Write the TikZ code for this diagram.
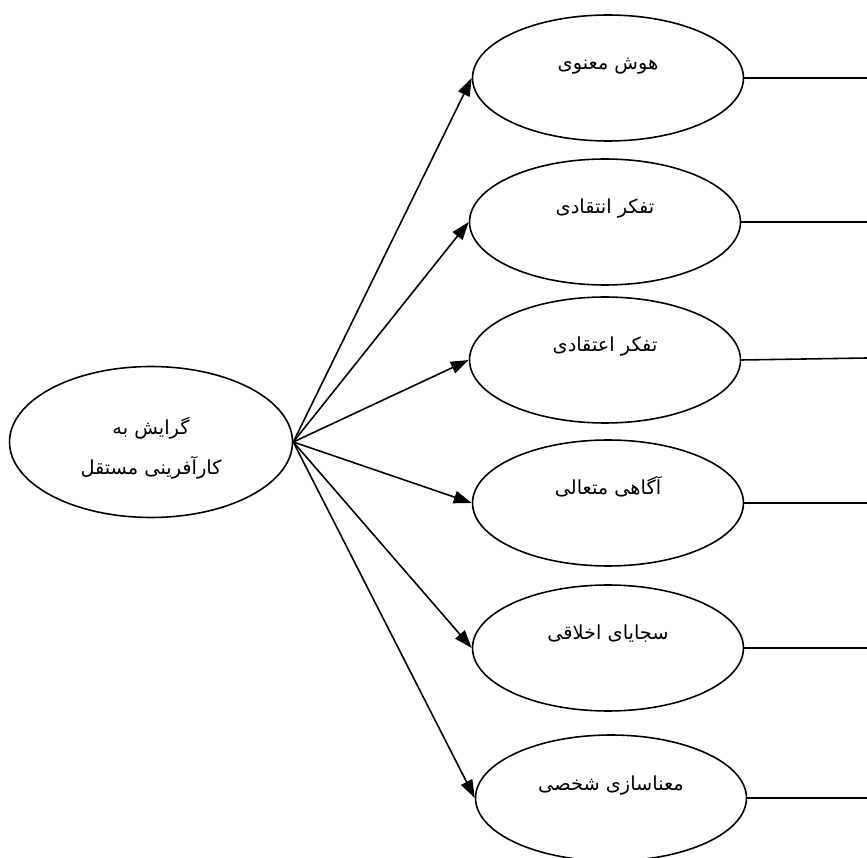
\documentclass[tikz,border=0pt]{standalone}
\usepackage{fontspec}
\newfontfamily\arabicfont[Script=Arabic]{DejaVu Sans}
\TeXXeTstate=1
\usetikzlibrary{arrows.meta,shapes.geometric}

\begin{document}
\begin{tikzpicture}[
  x=0.02cm, y=-0.02cm,
  font=\arabicfont\fontsize{11}{13}\selectfont,
  el/.style={draw, ellipse, line width=0.9pt, inner sep=0pt,
              minimum width=5.42cm, minimum height=2.52cm,
              text height=0.3cm, text depth=0.62cm},
  root/.style={draw, ellipse, line width=0.9pt, inner sep=0pt,
               minimum width=5.66cm, minimum height=3.02cm},
  rootlbl/.style={align=center, yshift=-0.12cm},
  arr/.style={-{Triangle[length=0.36cm, width=0.25cm]}, line width=0.9pt},
  tail/.style={line width=0.9pt},
]
\useasboundingbox (0,0) rectangle (867,858);

\node[root, label={[rootlbl]center:\beginR گرایش به\endR\\[0.3cm]\beginR کارآفرینی مستقل\endR}] (gerayesh) at (151,442) {};

\node[el] (hosh)     at (608,78)  {\beginR هوش معنوی\endR};
\node[el] (enteqadi) at (605,222) {\beginR تفکر انتقادی\endR};
\node[el] (eteqadi)  at (605,360) {\beginR تفکر اعتقادی\endR};
\node[el] (agahi)    at (608,503) {\beginR آگاهی متعالی\endR};
\node[el] (sajaya)   at (608,648) {\beginR سجایای اخلاقی\endR};
\node[el] (manasazi) at (611,798) {\beginR معناسازی شخصی\endR};

\coordinate (hosh-r)     at (867,78);
\coordinate (enteqadi-r) at (867,222);
\coordinate (eteqadi-r)  at (867,358);
\coordinate (agahi-r)    at (867,503);
\coordinate (sajaya-r)   at (867,648);
\coordinate (manasazi-r) at (867,798);

\foreach \n in {hosh, enteqadi, eteqadi, agahi, sajaya, manasazi} {
  \draw[arr] (gerayesh.east) -- (\n.west);
  \draw[tail] (\n.east) -- (\n-r);
}

\end{tikzpicture}
\end{document}
